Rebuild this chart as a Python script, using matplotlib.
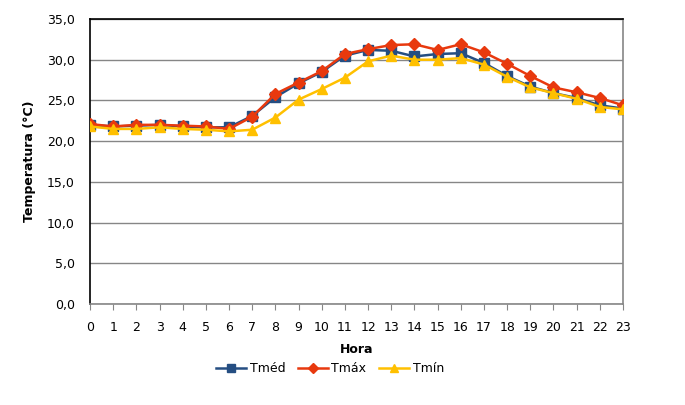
import numpy as np
import matplotlib
matplotlib.use("Agg")
import matplotlib.pyplot as plt
from matplotlib.ticker import FuncFormatter, MultipleLocator

hours = list(range(24))
t_med = [22.0, 21.8, 21.9, 22.0, 21.8, 21.7, 21.7, 23.1, 25.4, 27.1, 28.5, 30.5,
         31.2, 31.1, 30.4, 30.7, 30.8, 29.6, 28.0, 26.7, 25.9, 25.3, 24.4, 24.0]
t_max = [22.1, 21.8, 22.0, 22.0, 21.9, 21.8, 21.5, 23.0, 25.8, 27.2, 28.6, 30.7,
         31.3, 31.8, 31.9, 31.2, 31.9, 30.9, 29.5, 28.0, 26.6, 26.0, 25.3, 24.4]
t_min = [21.8, 21.5, 21.5, 21.7, 21.5, 21.4, 21.2, 21.4, 22.9, 25.1, 26.4, 27.8,
         29.8, 30.5, 30.0, 30.0, 30.2, 29.4, 27.9, 26.6, 25.9, 25.2, 24.2, 23.9]

fig = plt.figure(figsize=(6.85, 4.05), dpi=100)
ax = fig.add_axes([90/685, 101/405, 533/685, 285/405])

ax.plot(hours, t_med, color="#254E82", lw=1.8, marker="s", ms=6.5, label="Tméd", zorder=3)
ax.plot(hours, t_max, color="#E8390E", lw=1.8, marker="D", ms=6, label="Tmáx", zorder=4)
ax.plot(hours, t_min, color="#FFC000", lw=1.8, marker="^", ms=7.5, label="Tmín", zorder=5)

ax.set_xlim(0, 23)
ax.set_ylim(0, 35)
ax.xaxis.set_major_locator(MultipleLocator(1))
ax.yaxis.set_major_locator(MultipleLocator(5))
ax.yaxis.set_major_formatter(FuncFormatter(lambda v, p: f"{v:.1f}".replace(".", ",")))

ax.grid(axis="y", color="#868686", lw=1.0)
ax.set_axisbelow(True)
for s in ["left", "top"]:
    ax.spines[s].set_color("black")
    ax.spines[s].set_linewidth(1.2)
for s in ["right", "bottom"]:
    ax.spines[s].set_color("#868686")
    ax.spines[s].set_linewidth(1.2)

ax.tick_params(axis="y", length=0, pad=11, labelsize=9)
ax.tick_params(axis="x", length=4, color="#868686", direction="out", pad=8, labelsize=9)

ax.set_xlabel("Hora", fontsize=9, fontweight="bold", labelpad=7)
ax.set_ylabel("Temperatura (°C)", fontsize=9, fontweight="bold", labelpad=8)

ax.legend(loc="upper center", bbox_to_anchor=(0.45, -0.165), ncol=3, frameon=False,
          fontsize=9, handlelength=2.4, columnspacing=1.0, handletextpad=0.3,
          markerscale=0.8)

fig.savefig("out.png", dpi=100)
